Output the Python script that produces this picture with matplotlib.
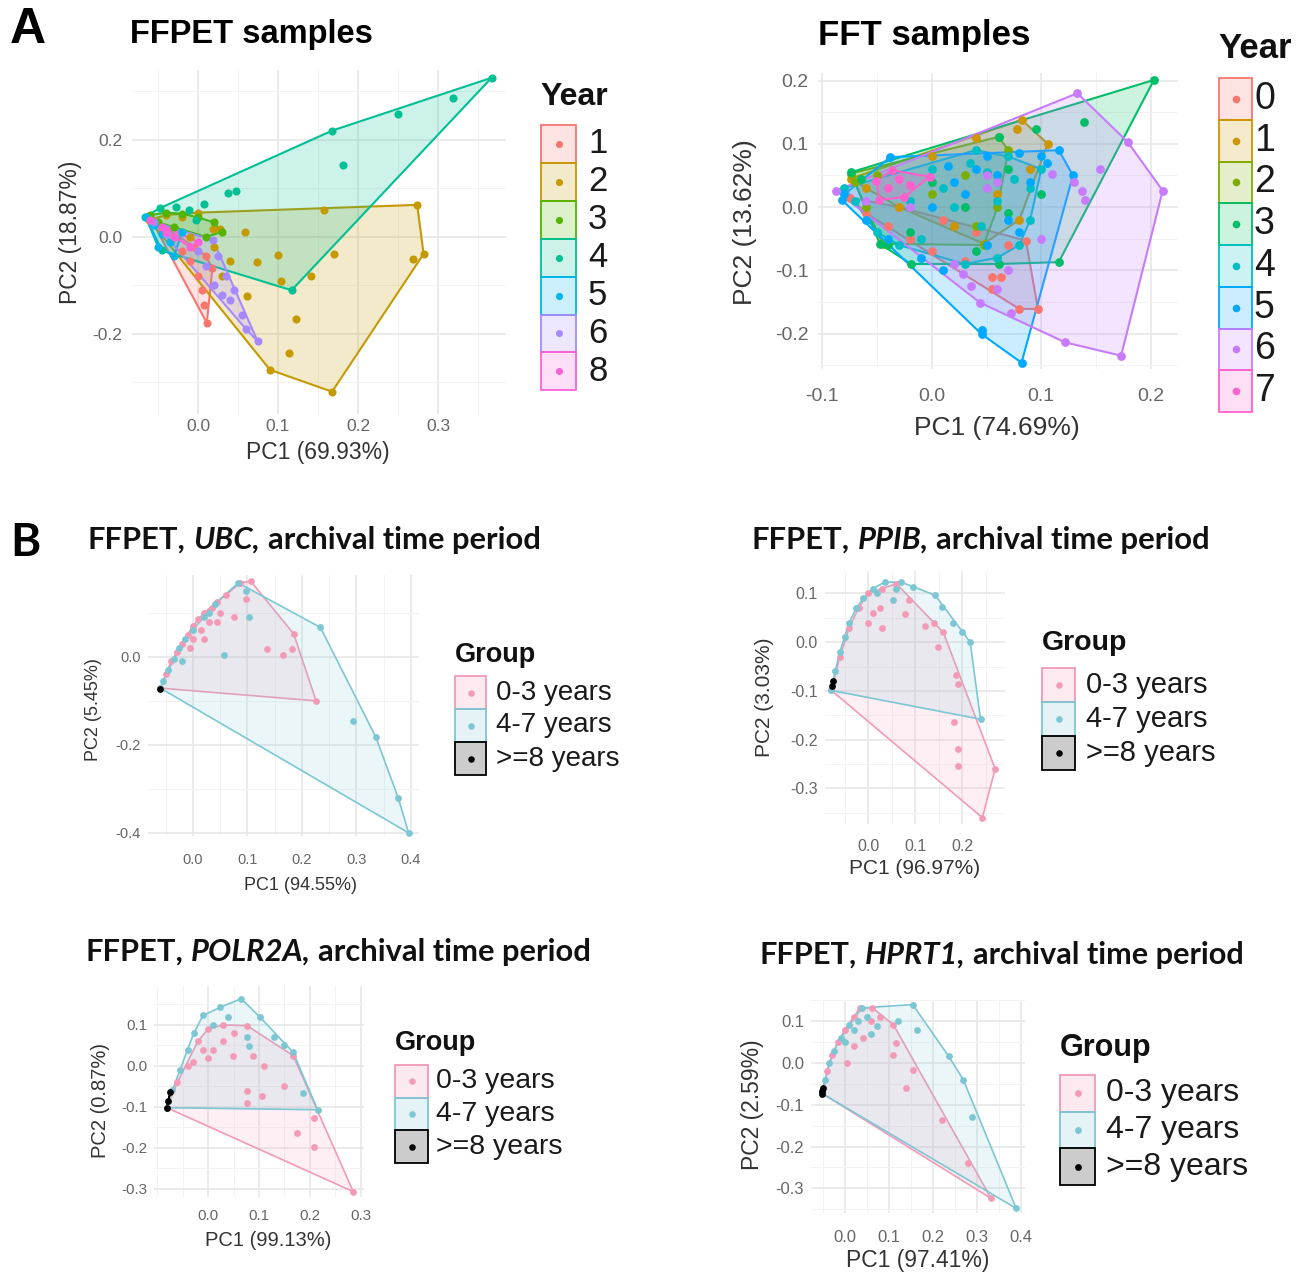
import numpy as np
import matplotlib
matplotlib.use('Agg')
import matplotlib.pyplot as plt
from matplotlib.patches import Rectangle, Polygon
from matplotlib.ticker import MultipleLocator
from matplotlib.colors import to_rgba

W, H = 1308, 1275
plt.rcParams['font.family'] = ['Liberation Sans', 'DejaVu Sans']

# ---------------- data (PC1, PC2) ----------------
ffpet_years = ['1', '2', '3', '4', '5', '6', '8']
ffpet_colors = ['#F8766D', '#C49A00', '#53B400', '#00C094', '#00B6EB', '#A58AFF', '#FB61D7']
ffpet_pts = {
    '1': [(-0.060, 0.040), (-0.045, 0.020), (-0.030, 0.000), (-0.020, -0.030), (-0.010, -0.050),
          (0.000, -0.080), (0.005, -0.110), (0.011, -0.177), (0.018, -0.065), (0.010, -0.040),
          (-0.005, -0.020), (0.008, -0.140)],
    '2': [(-0.061, 0.035), (-0.040, 0.045), (-0.020, 0.042), (0.000, 0.050), (0.019, 0.017),
          (0.027, 0.017), (0.0585, 0.010), (0.157, 0.056), (0.274, 0.066), (0.282, -0.035),
          (0.2686, -0.045), (0.170, -0.035), (0.141, -0.080), (0.104, -0.090), (0.100, -0.038),
          (0.074, -0.052), (0.061, -0.122), (0.122, -0.170), (0.114, -0.240), (0.090, -0.274),
          (0.1676, -0.319), (0.030, -0.080), (0.040, -0.050), (0.020, -0.020), (-0.010, 0.000)],
    '3': [(-0.060, 0.045), (-0.040, 0.050), (-0.020, 0.048), (0.000, 0.040), (0.020, 0.030),
          (0.010, 0.000), (-0.030, 0.020), (-0.050, 0.030), (0.030, 0.010)],
    '4': [(0.367, 0.328), (0.319, 0.286), (0.250, 0.253), (0.1676, 0.219), (0.181, 0.149),
          (0.048, 0.094), (0.037, 0.090), (0.008, 0.068), (-0.011, 0.056), (-0.028, 0.0625),
          (-0.048, 0.059), (0.117, -0.110), (-0.045, -0.028), (-0.003, 0.035), (-0.066, 0.042)],
    '5': [(-0.065, 0.040), (-0.055, 0.025), (-0.045, 0.005), (-0.035, -0.010), (-0.050, -0.020),
          (-0.020, 0.010), (-0.030, -0.040)],
    '6': [(-0.055, 0.030), (-0.040, 0.005), (0.019, -0.007), (0.025, -0.040), (0.035, -0.080),
          (0.045, -0.110), (0.040, -0.130), (0.055, -0.160), (0.060, -0.190), (0.0745, -0.215),
          (0.010, -0.060), (0.020, -0.100), (0.030, -0.120), (0.000, -0.030)],
    '8': [(-0.060, 0.035), (-0.045, 0.020), (-0.030, 0.000), (-0.010, -0.020), (0.000, -0.010),
          (-0.040, 0.010)],
}

fft_years = ['0', '1', '2', '3', '4', '5', '6', '7']
fft_colors = ['#F8766D', '#CD9600', '#7CAE00', '#00BE67', '#00BFC4', '#00A9FF', '#C77CFF', '#FF61CC']
fft_pts = {
    '0': [(-0.075, 0.015), (-0.060, -0.010), (-0.040, -0.030), (-0.020, -0.050), (0.000, -0.070),
          (0.030, -0.085), (0.055, -0.111), (0.063, -0.111), (0.055, -0.130), (0.080, -0.161),
          (0.097, -0.161), (0.086, -0.053), (0.070, -0.060), (0.040, -0.040), (0.010, -0.020),
          (-0.030, 0.000)],
    '1': [(-0.074, 0.045), (-0.060, 0.030), (0.000, 0.080), (0.040, 0.110), (0.078, 0.124),
          (0.082, 0.138), (0.106, 0.100), (0.090, 0.060), (0.0475, -0.058), (0.020, -0.030),
          (-0.030, 0.000), (0.060, 0.020), (0.080, -0.020)],
    '2': [(-0.074, 0.053), (-0.070, 0.040), (-0.050, 0.050), (0.061, 0.111), (0.070, 0.090),
          (0.0475, -0.060), (0.040, -0.030), (-0.045, -0.058), (-0.060, 0.000), (0.000, 0.020),
          (0.030, 0.050), (0.060, 0.000)],
    '3': [(-0.074, 0.055), (-0.065, 0.045), (-0.0475, -0.058), (-0.040, -0.060), (-0.019, -0.090),
          (0.061, -0.090), (0.116, -0.087), (0.139, 0.135), (0.203, 0.201), (0.095, 0.124),
          (0.061, 0.111), (0.070, 0.060), (0.100, 0.020), (0.070, -0.010), (0.030, 0.000),
          (0.000, 0.040), (-0.020, -0.040), (0.040, -0.070)],
    '4': [(-0.080, 0.030), (-0.070, 0.010), (-0.050, -0.040), (-0.030, -0.060), (0.000, 0.060),
          (0.035, 0.070), (0.050, 0.055), (0.075, 0.045), (0.090, 0.030), (0.090, -0.020),
          (0.080, -0.060), (0.060, -0.080), (0.030, -0.090), (-0.010, -0.050), (0.020, 0.000),
          (0.060, 0.010), (0.045, -0.030), (0.010, 0.030), (-0.020, 0.010), (0.070, 0.080),
          (0.100, 0.060), (0.040, 0.090)],
    '5': [(-0.038, 0.079), (0.116, 0.090), (0.129, 0.050), (0.082, -0.246), (0.0456, -0.201),
          (0.046, -0.195), (-0.082, 0.011), (-0.080, 0.020), (-0.060, -0.020), (-0.040, -0.050),
          (-0.010, -0.080), (0.010, -0.100), (0.020, 0.040), (0.050, 0.080), (0.080, 0.085),
          (0.100, 0.080), (0.060, 0.050), (0.090, 0.040), (0.030, 0.020), (0.070, -0.020),
          (0.080, -0.040), (0.000, 0.000), (0.050, -0.060), (0.105, 0.070), (0.040, 0.060),
          (0.015, 0.065)],
    '6': [(0.133, 0.180), (0.179, 0.103), (0.211, 0.026), (0.173, -0.235), (0.122, -0.214),
          (0.072, -0.167), (0.044, -0.151), (-0.0875, 0.026), (0.154, 0.061), (0.137, 0.026),
          (0.140, 0.011), (0.110, 0.053), (0.050, 0.050), (0.060, 0.040), (0.0285, -0.106),
          (0.036, -0.124), (0.060, -0.130), (0.070, -0.100), (0.130, 0.040), (0.050, 0.030),
          (0.020, -0.090), (-0.020, 0.000), (0.100, -0.050), (-0.060, 0.010)],
    '7': [(-0.051, 0.042), (-0.036, 0.058), (-0.002, 0.048), (-0.025, 0.016), (-0.048, 0.011),
          (-0.040, 0.030), (-0.020, 0.035), (-0.030, 0.045)],
}

group_names = ['0-3 years', '4-7 years', '>=8 years']
group_colors = ['#F39AB6', '#7DC6D3', '#000000']

ubc_pts = {
    '0-3 years': [(-0.060, -0.071), (-0.050, -0.040), (-0.040, -0.010), (-0.030, 0.010), (-0.020, 0.030),
                  (-0.010, 0.050), (0.000, 0.070), (0.010, 0.085), (0.020, 0.100), (0.035, 0.110),
                  (0.045, 0.125), (0.060, 0.140), (0.087, 0.168), (0.106, 0.172), (0.098, 0.131),
                  (0.075, 0.090), (0.136, 0.019), (0.166, 0.004), (0.181, 0.019), (0.185, 0.052),
                  (0.226, -0.100), (0.050, 0.100), (0.030, 0.080), (0.015, 0.060), (0.000, 0.040),
                  (-0.005, 0.020), (0.020, 0.040), (0.045, 0.080)],
    '4-7 years': [(-0.060, -0.071), (-0.055, -0.055), (-0.045, -0.030), (-0.035, -0.005), (-0.025, 0.020),
                  (-0.015, 0.040), (0.000, 0.060), (0.020, 0.090), (0.040, 0.120), (0.083, 0.168),
                  (0.098, 0.149), (0.102, 0.090), (0.057, 0.004), (0.234, 0.067), (0.294, -0.146),
                  (0.336, -0.183), (0.377, -0.321), (0.396, -0.400), (-0.020, -0.010), (0.030, 0.100)],
    '>=8 years': [(-0.061, -0.072)],
}
ppib_pts = {
    '0-3 years': [(-0.078, -0.099), (-0.060, -0.030), (-0.040, 0.030), (-0.020, 0.070), (0.000, 0.100),
                  (0.030, 0.110), (0.060, 0.120), (0.078, 0.058), (0.122, 0.034), (0.148, -0.010),
                  (0.187, -0.068), (0.191, -0.086), (0.183, -0.164), (0.191, -0.219), (0.191, -0.253),
                  (0.270, -0.260), (0.243, -0.360), (0.087, 0.086), (0.000, 0.040), (0.010, 0.060),
                  (0.030, 0.030), (0.025, 0.070), (0.140, 0.040), (0.160, 0.020)],
    '4-7 years': [(-0.078, -0.099), (-0.070, -0.060), (-0.060, -0.020), (-0.050, 0.010), (-0.040, 0.040),
                  (-0.025, 0.070), (-0.010, 0.090), (0.010, 0.110), (0.035, 0.123), (0.070, 0.123),
                  (0.096, 0.114), (0.143, 0.096), (0.157, 0.072), (0.217, 0.000), (0.239, -0.158),
                  (0.052, 0.086), (0.180, 0.040), (0.200, 0.020), (0.020, 0.100), (0.060, 0.110)],
    '>=8 years': [(-0.076, -0.090), (-0.074, -0.080)],
}
polr2a_pts = {
    '0-3 years': [(-0.081, -0.102), (-0.060, -0.040), (-0.040, 0.000), (-0.020, 0.060), (0.000, 0.090),
                  (0.030, 0.100), (0.077, 0.098), (0.167, 0.025), (0.285, -0.307), (0.207, -0.127),
                  (0.207, -0.197), (0.175, -0.164), (0.150, -0.049), (0.106, -0.074), (0.077, -0.061),
                  (0.077, -0.090), (0.049, 0.025), (0.089, 0.025), (0.110, 0.000), (-0.030, 0.010),
                  (0.010, 0.040), (0.030, 0.060), (0.000, 0.020), (0.050, 0.080), (-0.010, 0.040)],
    '4-7 years': [(-0.081, -0.102), (-0.070, -0.060), (-0.055, -0.010), (-0.040, 0.040), (-0.028, 0.080),
                  (-0.010, 0.123), (0.024, 0.143), (0.065, 0.164), (0.102, 0.119), (0.167, 0.033),
                  (0.215, -0.107), (0.187, -0.066), (0.077, 0.070), (0.081, 0.049), (0.040, 0.120),
                  (0.010, 0.100), (0.130, 0.070), (0.150, 0.050)],
    '>=8 years': [(-0.081, -0.103), (-0.078, -0.085), (-0.074, -0.064)],
}
hprt1_pts = {
    '0-3 years': [(-0.053, -0.072), (-0.040, -0.020), (-0.030, 0.020), (-0.015, 0.050), (0.000, 0.080),
                  (0.020, 0.110), (0.034, 0.132), (0.0625, 0.132), (0.110, 0.092), (0.115, 0.048),
                  (0.110, 0.020), (0.154, -0.016), (0.139, -0.060), (0.221, -0.136), (0.279, -0.240),
                  (0.332, -0.324), (0.005, 0.000), (0.020, 0.040), (0.040, 0.060), (0.060, 0.100),
                  (0.080, 0.110)],
    '4-7 years': [(-0.053, -0.072), (-0.045, -0.040), (-0.035, 0.000), (-0.025, 0.030), (-0.010, 0.060),
                  (0.010, 0.090), (0.038, 0.132), (0.154, 0.140), (0.236, 0.016), (0.269, -0.040),
                  (0.288, -0.128), (0.389, -0.348), (0.163, 0.080), (0.120, 0.100), (0.072, 0.088),
                  (0.050, 0.110), (0.060, 0.070), (0.020, 0.080), (0.000, 0.050), (0.030, 0.100)],
    '>=8 years': [(-0.053, -0.073), (-0.050, -0.060), (-0.052, -0.066)],
}

fig = plt.figure(figsize=(W / 100, H / 100), dpi=100)
ov = fig.add_axes([0, 0, 1, 1])
ov.axis('off')
ov.set_xlim(0, W)
ov.set_ylim(H, 0)
ov.autoscale(False)


def convex_hull(p):
    pts = sorted(set(map(tuple, p)))
    if len(pts) < 3:
        return pts

    def cross(o, a, b):
        return (a[0] - o[0]) * (b[1] - o[1]) - (a[1] - o[1]) * (b[0] - o[0])
    lower, upper = [], []
    for q in pts:
        while len(lower) >= 2 and cross(lower[-2], lower[-1], q) <= 0:
            lower.pop()
        lower.append(q)
    for q in reversed(pts):
        while len(upper) >= 2 and cross(upper[-2], upper[-1], q) <= 0:
            upper.pop()
        upper.append(q)
    return lower[:-1] + upper[:-1]


def panel(box, xlim, ylim, xticks, yticks, xminor, yminor, groups, colors, pts,
          s=18, tick_fs=12, lw=1.2, fill_a=0.2, xpad=5, ypad=5):
    l, t, r, b = box
    ax = fig.add_axes([l / W, 1 - b / H, (r - l) / W, (b - t) / H])
    ax.set_xlim(xlim)
    ax.set_ylim(ylim)
    for sp in ax.spines.values():
        sp.set_visible(False)
    ax.set_xticks(xticks)
    ax.set_xticklabels([f'{v:.1f}' for v in xticks])
    ax.set_yticks(yticks)
    ax.set_yticklabels([f'{v:.1f}' for v in yticks])
    ax.xaxis.set_minor_locator(MultipleLocator(xminor))
    ax.yaxis.set_minor_locator(MultipleLocator(yminor))
    ax.grid(which='major', color='#E6E6E6', lw=1.1)
    ax.grid(which='minor', color='#F2F2F2', lw=0.7)
    ax.tick_params(which='both', length=0, labelsize=tick_fs, labelcolor='#666666')
    ax.tick_params(axis='x', pad=xpad)
    ax.tick_params(axis='y', pad=ypad)
    ax.set_axisbelow(True)
    ax.patch.set_alpha(0)
    for g, c in zip(groups, colors):
        p = np.array(pts[g])
        h = convex_hull(p)
        if len(h) >= 2:
            ax.add_patch(Polygon(h, closed=True, fc=to_rgba(c, fill_a), ec=c, lw=lw, zorder=2))
        ax.scatter(p[:, 0], p[:, 1], s=s, color=c, lw=0, zorder=3)
    return ax


def legend(title, tx, ty, tfs, kx, ktop, kw, kh, labels, colors, lx, lfs, dot=14, fill_a=0.2):
    ov.text(tx, ty, title, fontsize=tfs, fontweight='bold', va='center', ha='left', color='#111111')
    for i, (lab, c) in enumerate(zip(labels, colors)):
        y0 = ktop + i * kh
        ov.add_patch(Rectangle((kx, y0), kw, kh, fc=to_rgba(c, fill_a), ec=c, lw=1.3))
        ov.scatter([kx + kw / 2], [y0 + kh / 2], s=dot, color=c, lw=0, zorder=4)
        ov.text(lx, y0 + kh / 2, lab, fontsize=lfs, va='center', ha='left', color='#1a1a1a')


def axis_titles(xl, xpos, yl, ypos, fs):
    ov.text(xpos[0], xpos[1], xl, fontsize=fs, ha='center', va='center', color='#333333')
    ov.text(ypos[0], ypos[1], yl, fontsize=fs, ha='center', va='center', rotation=90, color='#333333')


def rich_title(x, y, parts, width):
    r = fig.canvas.get_renderer()

    def place(fs):
        cx = x
        arts = []
        probe1 = ov.text(0, 0, 'x x', fontsize=fs, fontweight='bold', family='Lato')
        probe2 = ov.text(0, 0, 'xx', fontsize=fs, fontweight='bold', family='Lato')
        gap = probe1.get_window_extent(r).width - probe2.get_window_extent(r).width
        probe1.remove()
        probe2.remove()
        for k, (s, st) in enumerate(parts):
            t = ov.text(cx, y, s, fontsize=fs, fontweight='bold', fontstyle=st, family='Lato',
                        va='center', ha='left', color='#111111')
            cx += t.get_window_extent(r).width + (gap if k < len(parts) - 1 else 0)
            arts.append(t)
        return arts, cx - x
    arts, w = place(20)
    for a in arts:
        a.remove()
    place(20 * width / w)


# ---------------- panel A ----------------
ov.text(10, 30, 'A', fontsize=36, fontweight='bold', va='center', ha='left')
ov.text(130, 35, 'FFPET samples', fontsize=23.5, fontweight='bold', va='center', ha='left')
panel((132, 70, 506, 414), (-0.0825, 0.385), (-0.365, 0.344), [0.0, 0.1, 0.2, 0.3], [-0.2, 0.0, 0.2],
      0.05, 0.1, ffpet_years, ffpet_colors, ffpet_pts, s=34, tick_fs=12.5, lw=1.5, xpad=3.5, ypad=7)
axis_titles('PC1 (69.93%)', (318, 452), 'PC2 (18.87%)', (70, 232), 16.5)
legend('Year', 540, 97, 23, 541, 125, 35, 37.9, ffpet_years, ffpet_colors, 588, 25, dot=26)

ov.text(818, 35, 'FFT samples', fontsize=25, fontweight='bold', va='center', ha='left')
panel((818, 73, 1178, 369), (-0.104, 0.225), (-0.256, 0.212), [-0.1, 0.0, 0.1, 0.2],
      [-0.2, -0.1, 0.0, 0.1, 0.2], 0.05, 0.05, fft_years, fft_colors, fft_pts,
      s=40, tick_fs=14, lw=1.5, xpad=14, ypad=7)
axis_titles('PC1 (74.69%)', (997, 428), 'PC2 (13.62%)', (745, 222), 19)
legend('Year', 1218, 48, 25, 1219, 78, 33, 41.75, fft_years, fft_colors, 1254, 27, dot=30)

# ---------------- panel B ----------------
ov.text(10, 543, 'B', fontsize=33, fontweight='bold', family='Lato', va='center', ha='left')

rich_title(88, 540, [('FFPET,', 'normal'), ('UBC,', 'italic'), ('archival time period', 'normal')], 452)
panel((148, 575, 419, 836), (-0.0826, 0.415), (-0.407, 0.186), [0.0, 0.1, 0.2, 0.3, 0.4],
      [-0.4, -0.2, 0.0], 0.05, 0.1, group_names, group_colors, ubc_pts,
      s=24, tick_fs=10.5, lw=1.2, fill_a=0.15, xpad=12, ypad=5)
axis_titles('PC1 (94.55%)', (300, 885), 'PC2 (5.45%)', (93, 710), 13)
legend('Group', 455, 655, 19.5, 455, 676, 31, 33, group_names, group_colors, 496, 20, dot=22)

rich_title(752, 540, [('FFPET,', 'normal'), ('PPIB,', 'italic'), ('archival time period', 'normal')], 458)
panel((825, 571, 1005, 824), (-0.0915, 0.291), (-0.373, 0.146), [0.0, 0.1, 0.2],
      [-0.3, -0.2, -0.1, 0.0, 0.1], 0.05, 0.05, group_names, group_colors, ppib_pts,
      s=24, tick_fs=11.5, lw=1.2, fill_a=0.15, xpad=10.5, ypad=5)
axis_titles('PC1 (96.97%)', (915, 868), 'PC2 (3.03%)', (765, 697), 15)
legend('Group', 1042, 643, 20.5, 1042, 668, 33, 34, group_names, group_colors, 1086, 21, dot=22)

rich_title(85, 952, [('FFPET,', 'normal'), ('POLR2A,', 'italic'), ('archival time period', 'normal')], 505)
panel((154, 986, 364, 1197), (-0.106, 0.306), (-0.32, 0.195), [0.0, 0.1, 0.2, 0.3],
      [-0.3, -0.2, -0.1, 0.0, 0.1], 0.05, 0.05, group_names, group_colors, polr2a_pts,
      s=24, tick_fs=11, lw=1.2, fill_a=0.15, xpad=8.5, ypad=5)
axis_titles('PC1 (99.13%)', (268, 1240), 'PC2 (0.87%)', (100, 1100), 14.5)
legend('Group', 395, 1043, 19.5, 395, 1065, 33, 32.7, group_names, group_colors, 436, 20.5, dot=22)

rich_title(760, 955, [('FFPET,', 'normal'), ('HPRT1,', 'italic'), ('archival time period', 'normal')], 485)
panel((811, 1000, 1025, 1213), (-0.077, 0.409), (-0.359, 0.151), [0.0, 0.1, 0.2, 0.3, 0.4],
      [-0.3, -0.2, -0.1, 0.0, 0.1], 0.05, 0.05, group_names, group_colors, hprt1_pts,
      s=24, tick_fs=12, lw=1.2, fill_a=0.15, xpad=12, ypad=5)
axis_titles('PC1 (97.41%)', (918, 1260), 'PC2 (2.59%)', (752, 1105), 16.5)
legend('Group', 1060, 1048, 22, 1060, 1075, 35, 36.7, group_names, group_colors, 1106, 23, dot=24)

fig.savefig('out.png', dpi=100)
